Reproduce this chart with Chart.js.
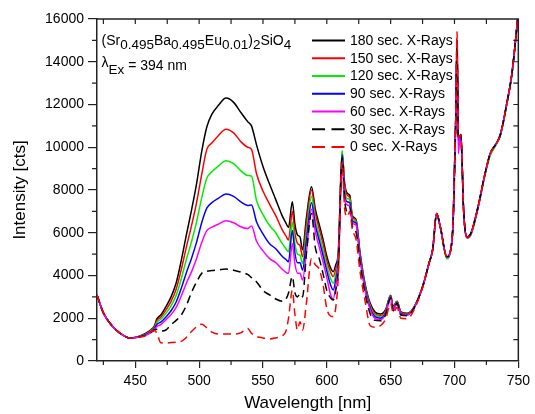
<!DOCTYPE html>
<html>
<head>
<meta charset="utf-8">
<script src="https://cdn.jsdelivr.net/npm/chart.js@4.4.1/dist/chart.umd.min.js"></script>
<style>
  html, body { margin: 0; padding: 0; background: #fff; }
  #wrap { width: 535px; height: 414px; }
</style>
</head>
<body>
<div id="wrap"><canvas id="c" width="535" height="414"></canvas></div>
<script>
// ---------- data ----------
const wavelength = [
  420, 425, 430, 435, 440, 446, 452, 458, 462, 465,
  467, 470, 474, 478, 482, 486, 490, 494, 498, 502,
  506, 510, 515, 521, 527, 533, 538, 541, 545, 550,
  555, 560, 565, 568, 570, 573, 575, 577, 579, 581,
  584, 588, 591, 594, 597, 600, 603, 605, 607, 609,
  612, 614, 616, 618, 620, 623, 626, 630, 634, 638,
  642, 646, 650, 652, 655, 658, 663, 668, 675, 680,
  683, 686, 689, 694, 697, 699, 701, 702, 703, 704,
  705, 706, 707, 710, 713, 718, 724, 728, 733, 736,
  741, 745, 750
];
const s180 = [
  3090, 2250, 1780, 1450, 1220, 1070, 1140, 1290, 1450, 1650,
  1980, 2150, 2550, 3000, 3650, 4700, 5900, 7050, 8300, 9800,
  10950, 11550, 11950, 12300, 12100, 11600, 11200, 11000, 10100, 9100,
  8300, 7550, 6800, 6450, 6250, 7450, 6400, 5900, 5800, 5200,
  6700, 8150, 7100, 6400, 5700, 4900, 4350, 4180, 4500, 5100,
  9700, 8300, 7850, 7750, 6800, 6600, 5100, 3600, 2700, 2280,
  2200, 2400, 3080, 2550, 2800, 2300, 2230, 2500, 3480, 4570,
  5250, 6900, 6250, 4880, 5200, 6600, 11300, 14900, 10400, 10500,
  10600, 9250, 7250, 5800, 6000, 7100, 8780, 9700, 10200, 10600,
  12050, 13450, 16300
];
const s150 = [
  3090, 2250, 1780, 1450, 1220, 1065, 1130, 1260, 1420, 1600,
  1900, 2050, 2390, 2790, 3360, 4280, 5330, 6320, 7410, 8720,
  9900, 10200, 10540, 10840, 10670, 10240, 10000, 9900, 8750, 7950,
  7350, 6800, 6150, 5850, 5660, 7000, 6000, 5500, 5400, 4880,
  6400, 8000, 6900, 6200, 5500, 4700, 4150, 3950, 4300, 5000,
  9800, 8200, 7750, 7650, 6750, 6550, 5000, 3500, 2620, 2200,
  2130, 2350, 3050, 2500, 2780, 2270, 2200, 2480, 3470, 4560,
  5240, 6890, 6240, 4870, 5190, 6600, 11350, 15050, 10350, 10480,
  10580, 9230, 7240, 5790, 5990, 7090, 8770, 9690, 10190, 10590,
  12040, 13440, 16300
];
const s120 = [
  3090, 2250, 1780, 1450, 1220, 1065, 1125, 1240, 1390, 1560,
  1820, 1950, 2230, 2580, 3070, 3850, 4750, 5580, 6510, 7630,
  8550, 8850, 9120, 9370, 9230, 8880, 8680, 8650, 7500, 6850,
  6350, 6000, 5500, 5250, 5115, 6500, 5500, 5000, 4950, 4570,
  6000, 7700, 6600, 5900, 5200, 4450, 3850, 3640, 4050, 4850,
  9850, 8000, 7600, 7550, 6650, 6500, 4950, 3450, 2550, 2130,
  2070, 2300, 3020, 2450, 2750, 2240, 2180, 2470, 3450, 4540,
  5220, 6880, 6200, 4780, 5150, 6580, 11250, 14850, 10300, 10450,
  10550, 9200, 7200, 5750, 5900, 7000, 8700, 9600, 10150, 10550,
  12000, 13400, 16300
];
const s90 = [
  3090, 2250, 1780, 1450, 1220, 1065, 1120, 1220, 1360, 1520,
  1720, 1820, 2060, 2350, 2760, 3400, 4130, 4800, 5560, 6470,
  7150, 7410, 7610, 7810, 7700, 7430, 7280, 7300, 6500, 5950,
  5500, 5250, 4900, 4750, 4645, 6100, 5050, 4600, 4600, 4260,
  5600, 7400, 6350, 5650, 4950, 4200, 3550, 3320, 3800, 4700,
  9650, 7800, 7450, 7400, 6550, 6450, 4900, 3400, 2480, 2060,
  2000, 2250, 2990, 2400, 2720, 2210, 2160, 2460, 3460, 4560,
  5240, 6900, 6230, 4860, 5180, 6590, 11300, 14800, 10250, 10450,
  10580, 9230, 7230, 5780, 5970, 7080, 8790, 9720, 10210, 10620,
  12070, 13470, 16300
];
const s60 = [
  3090, 2250, 1780, 1450, 1220, 1065, 1115, 1200, 1330, 1480,
  1620, 1700, 1930, 2170, 2510, 3040, 3640, 4170, 4800, 5540,
  6100, 6260, 6400, 6560, 6470, 6270, 6200, 6320, 5600, 5150,
  4800, 4600, 4300, 4150, 4100, 5500, 4550, 4100, 4100, 3790,
  5100, 7100, 6050, 5350, 4650, 3900, 3100, 2900, 3500, 4500,
  9400, 7600, 7300, 7250, 6450, 6350, 4800, 3300, 2400, 1980,
  1930, 2200, 2950, 2350, 2690, 2180, 2140, 2450, 3440, 4550,
  5230, 6880, 6220, 4850, 5170, 6560, 11200, 14800, 9700, 10300,
  10500, 9150, 7200, 5760, 5960, 7060, 8760, 9690, 10180, 10580,
  12030, 13430, 16300
];
const s30 = [
  3090, 2250, 1780, 1450, 1220, 1065, 1115, 1200, 1320, 1450,
  1480, 1400, 1450, 1700, 1900, 2150, 2600, 3200, 3700, 4100,
  4200, 4230, 4260, 4300, 4250, 4150, 4050, 3900, 3700, 3300,
  3100, 2900, 2800, 2900, 3180, 3950, 3200, 3000, 3150, 3000,
  5000, 6900, 5300, 4800, 4100, 3300, 2950, 2850, 3300, 4300,
  9500, 7500, 7000, 7200, 6300, 6000, 4600, 3150, 2200, 1900,
  1880, 2150, 2950, 2350, 2700, 2150, 2120, 2440, 3480, 4570,
  5250, 6900, 6250, 4880, 5200, 6600, 11300, 15000, 10400, 10500,
  10600, 9250, 7250, 5800, 6000, 7100, 8780, 9700, 10200, 10600,
  12050, 13450, 16300
];
const s0 = [
  3090, 2250, 1780, 1450, 1220, 1062, 1110, 1180, 1350, 1420,
  1300, 850, 840, 860, 880, 920, 1100, 1380, 1600, 1720,
  1550, 1350, 1260, 1260, 1260, 1330, 1520, 1300, 1150, 1080,
  1030, 1080, 1170, 1400, 2000, 3300, 2200, 1450, 1840, 1450,
  2700, 4800, 4500, 4300, 3600, 2450, 2100, 2080, 2500, 4000,
  9300, 7100, 6750, 7000, 6150, 5660, 4200, 2800, 1650, 1580,
  1650, 1950, 2700, 2250, 2500, 2000, 1980, 2350, 3450, 4560,
  5250, 6900, 6250, 4880, 5200, 6650, 11600, 15400, 10500, 10500,
  10600, 9250, 7250, 5800, 6000, 7100, 8780, 9700, 10200, 10600,
  12050, 13450, 16300
];
const seriesLabels = ['180 sec. X-Rays', '150 sec. X-Rays', '120 sec. X-Rays', '90 sec. X-Rays',
                      '60 sec. X-Rays', '30 sec. X-Rays', '0 sec. X-Rays'];
const seriesValues = [s180, s150, s120, s90, s60, s30, s0];
const seriesColors = ['#000000', '#ff0000', '#00ee00', '#0000ff', '#ff00ff', '#000000', '#ff0000'];
const seriesDashed = [false, false, false, false, false, true, true];

const xTickLabels = [450, 500, 550, 600, 650, 700, 750];
const yTickLabels = [0, 2000, 4000, 6000, 8000, 10000, 12000, 14000, 16000];
const xMinorTicks = [425, 475, 525, 575, 625, 675, 725];
const yMinorTicks = [1000, 3000, 5000, 7000, 9000, 11000, 13000, 15000];
const xTopTicks = [425, 450, 475, 500, 525, 550, 575, 600, 625, 650, 675, 700, 725];
const yRightTicks = [1000, 2000, 3000, 4000, 5000, 6000, 7000, 8000, 9000, 10000, 11000, 12000, 13000, 14000, 15000];

// ---------- chart ----------
const FONT = '"Liberation Sans", Arial, Helvetica, sans-serif';
const AXIS = '#222222';

const datasets = seriesLabels.map((label, i) => ({
  label,
  data: wavelength.map((w, k) => ({ x: w, y: seriesValues[i][k] })),
  borderColor: seriesColors[i],
  borderWidth: 1.5,
  borderDash: seriesDashed[i] ? [8, 5] : [],
  pointRadius: 0,
  fill: false,
  cubicInterpolationMode: 'monotone',
  order: seriesLabels.length - 1 - i
}));

const decor = {
  id: 'decor',
  afterDraw(chart) {
    const { ctx, chartArea: a, scales: { x, y } } = chart;
    ctx.save();
    ctx.setLineDash([]);
    ctx.strokeStyle = AXIS;
    ctx.lineWidth = 1.5;
    ctx.beginPath();
    ctx.moveTo(a.left, a.top); ctx.lineTo(a.right, a.top); ctx.lineTo(a.right, a.bottom);
    ctx.stroke();
    ctx.lineWidth = 1.2;
    ctx.beginPath();
    xMinorTicks.forEach(v => { const p = x.getPixelForValue(v); ctx.moveTo(p, a.bottom); ctx.lineTo(p, a.bottom + 4); });
    xTopTicks.forEach(v => { const p = x.getPixelForValue(v); ctx.moveTo(p, a.top); ctx.lineTo(p, a.top + 5); });
    yMinorTicks.forEach(v => { const p = y.getPixelForValue(v); ctx.moveTo(a.left - 5, p); ctx.lineTo(a.left, p); });
    yRightTicks.forEach(v => { const p = y.getPixelForValue(v); ctx.moveTo(a.right - 5, p); ctx.lineTo(a.right, p); });
    ctx.stroke();

    // legend
    const lx0 = 312, lx1 = 345, tx = 350, ly0 = 40.5, dy = 17.75;
    chart.data.datasets.forEach((ds, i) => {
      const yy = ly0 + i * dy;
      ctx.strokeStyle = ds.borderColor;
      ctx.lineWidth = 2;
      ctx.setLineDash(ds.borderDash.length ? [13, 6.5] : []);
      ctx.beginPath(); ctx.moveTo(lx0, yy); ctx.lineTo(lx1, yy); ctx.stroke();
      ctx.setLineDash([]);
      ctx.fillStyle = '#000';
      ctx.font = '14px ' + FONT;
      ctx.textBaseline = 'middle';
      ctx.textAlign = 'left';
      ctx.fillText(ds.label, tx, yy + 0.5);
    });

    // annotation: formula and excitation wavelength
    ctx.textBaseline = 'alphabetic';
    ctx.fillStyle = '#000';
    const runs = [['(Sr', 0], ['0.495', 1], ['Ba', 0], ['0.495', 1], ['Eu', 0], ['0.01', 1],
                  [')', 0], ['2', 1], ['SiO', 0], ['4', 1]];
    let cx = 101.5;
    runs.forEach(([t, sub]) => {
      ctx.font = (sub ? '13.5px ' : '14px ') + FONT;
      ctx.fillText(t, cx, sub ? 48.6 : 45);
      cx += ctx.measureText(t).width;
    });
    cx = 101.5;
    ctx.font = '14px ' + FONT;
    ctx.fillText('λ', cx, 67);
    cx += ctx.measureText('λ').width;
    ctx.font = '13.5px ' + FONT;
    ctx.fillText('Ex', cx, 73.5);
    cx += ctx.measureText('Ex').width;
    ctx.font = '14px ' + FONT;
    ctx.fillText(' = 394 nm', cx, 69.5);
    ctx.restore();
  }
};

new Chart(document.getElementById('c'), {
  type: 'line',
  data: { datasets },
  plugins: [decor],
  options: {
    responsive: false,
    animation: false,
    devicePixelRatio: 1,
    layout: { padding: { top: 19, right: 13, bottom: 0, left: 0 } },
    plugins: { legend: { display: false }, tooltip: { enabled: false } },
    scales: {
      x: {
        type: 'linear', position: 'bottom', min: 420, max: 750,
        afterBuildTicks: s => { s.ticks = xTickLabels.map(v => ({ value: v })); },
        afterFit: s => { s.height = 53; },
        grid: { display: true, drawOnChartArea: false, drawTicks: true, tickLength: 7, color: AXIS, lineWidth: 1.2 },
        border: { display: true, color: AXIS, width: 1.5 },
        ticks: { font: { family: FONT, size: 14 }, color: '#000', padding: 5, maxRotation: 0, autoSkip: false,
                 callback: v => String(v) },
        title: { display: true, text: 'Wavelength [nm]', font: { family: FONT, size: 17 }, color: '#000', padding: { top: 0, bottom: 0 } }
      },
      y: {
        type: 'linear', position: 'left', min: 0, max: 16000,
        afterBuildTicks: s => { s.ticks = yTickLabels.map(v => ({ value: v })); },
        afterFit: s => { s.width = 97; },
        grid: { display: true, drawOnChartArea: false, drawTicks: true, tickLength: 9, color: AXIS, lineWidth: 1.2 },
        border: { display: true, color: AXIS, width: 1.5 },
        ticks: { font: { family: FONT, size: 14 }, color: '#000', padding: 4, autoSkip: false,
                 callback: v => String(v) },
        title: { display: true, text: 'Intensity [cts]', font: { family: FONT, size: 17 }, color: '#000', padding: { top: 10.5, bottom: 0 } }
      }
    }
  }
});
</script>
</body>
</html>
